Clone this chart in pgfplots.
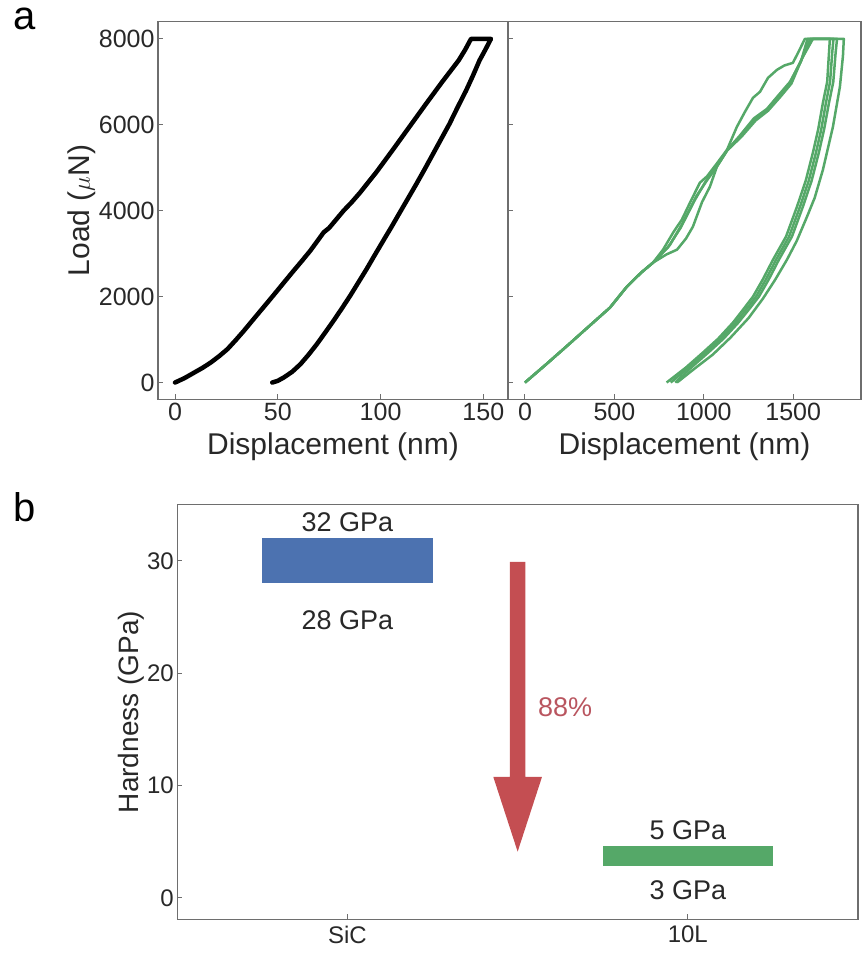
\documentclass[border=0pt]{standalone}
\usepackage{pgfplots}
\pgfplotsset{compat=1.18}
\usepackage{fontspec}
\setmainfont{Liberation Sans}
\definecolor{sblue}{HTML}{4C72B0}
\definecolor{sgreen}{HTML}{55A868}
\definecolor{sred}{HTML}{C44E52}
\definecolor{pct}{RGB}{185,85,95}
\definecolor{framec}{RGB}{110,110,110}
\definecolor{txt}{RGB}{40,40,40}
\pgfplotsset{
  base/.style={scale only axis, axis line style={draw=framec, line width=1.3pt},
    every tick/.style={draw=framec, line width=1pt}, major tick length=5pt,
    tick align=inside, tick pos=left, scaled ticks=false,
    /pgf/number format/1000 sep={}, /pgf/number format/assume math mode=true,
    clip=false},
}
\begin{document}
\begin{tikzpicture}
\useasboundingbox (0,0) rectangle (864pt,954pt);
\node[anchor=base west, font=\fontsize{40}{40}\selectfont, text=black] at (10pt,924pt) {a};
\node[anchor=base west, font=\fontsize{40}{40}\selectfont, text=black] at (10pt,432pt) {b};
% ---------- top left
\begin{axis}[base, at={(158pt,554.7pt)}, anchor=south west, width=350pt, height=377.6pt,
  xmin=-8.28, xmax=162, ymin=-390, ymax=8400,
  xtick={0,50,100,150}, ytick={0,2000,4000,6000,8000},
  ticklabel style={font=\fontsize{25}{25}\selectfont, text=txt},
  xlabel={Displacement (nm)}, ylabel={Load ($\mu$N)},
  label style={font=\fontsize{30}{30}\selectfont, text=txt},
  xlabel style={yshift=-5pt}, ylabel style={yshift=-4pt}]
\addplot[black, line width=4.5pt, line join=round, line cap=round] coordinates {
(0,0)(4.5,100)(9.4,233)(13.5,345)(17.4,466)(21.5,615)(25.5,777)(29.5,985)(33.5,1204)(37.5,1435)(41.6,1670)(45.7,1905)(49.7,2136)(53.7,2370)(57.7,2602)(61.8,2835)(65.8,3068)(69.2,3290)(72.3,3495)(75,3600)(78.5,3800)(82,4000)(86,4200)(90,4420)(94,4660)(98,4900)(102,5160)(106,5420)(110,5685)(114,5950)(118,6215)(122,6480)(126,6740)(130,7000)(134,7250)(138,7500)(141.2,7750)(144.0,8000)(153.7,8000)
(151,7750)(148.1,7495)(145,7150)(141.6,6796)(137.5,6410)(133.5,6019)(129.5,5670)(125.5,5320)(121.5,4970)(117.4,4621)(113.4,4290)(109.4,3961)(105.4,3630)(101.3,3301)(97.2,2970)(93.2,2641)(89.2,2330)(85.2,2019)(81.1,1720)(77.1,1437)(73,1160)(69.0,893)(65,650)(61.0,427)(57,250)(52.9,117)(50,40)(47.3,0)};
\end{axis}
% ---------- top right
\begin{axis}[base, at={(508pt,554.7pt)}, anchor=south west, width=353pt, height=377.6pt,
  xmin=-95, xmax=1879, ymin=-390, ymax=8400,
  xtick={0,500,1000,1500}, ytick={0,2000,4000,6000,8000}, yticklabels={},
  ticklabel style={font=\fontsize{25}{25}\selectfont, text=txt},
  xlabel={Displacement (nm)},
  label style={font=\fontsize{30}{30}\selectfont, text=txt},
  xlabel style={yshift=-5pt}]
\addplot[sgreen, line width=2.5pt, line join=round] coordinates {
(0,0)(120,430)(233,845)(350,1280)(475,1744)(570,2233)(650,2560)(716,2791)(772,3093)(830,3500)(877,3791)(930,4250)(978,4651)(1018,4800)(1073,5100)(1130,5420)(1185,5953)(1230,6302)(1275,6628)(1314,6767)(1359,7093)(1409,7279)(1450,7380)(1498,7442)(1530,7700)(1565,8000)
(1705,8000)(1700,7674)(1690,7000)(1666,6512)(1640,5900)(1610,5349)(1570,4700)(1521,4093)(1460,3400)(1387,2860)(1330,2400)(1275,2000)(1220,1700)(1163,1395)(1080,1020)(995,698)(900,350)(792,0)};
\addplot[sgreen, line width=2.5pt, line join=round] coordinates {
(0,0)(120,430)(233,845)(350,1280)(475,1744)(570,2233)(650,2560)(716,2791)(790,2980)(850,3093)(900,3350)(939,3628)(990,4200)(1034,4558)(1073,5023)(1130,5400)(1202,5721)(1280,6120)(1353,6349)(1420,6680)(1482,6977)(1550,7550)(1610,8000)
(1783,8000)(1778,7600)(1761,6884)(1722,5953)(1666,4953)(1620,4300)(1577,3860)(1520,3300)(1465,2860)(1400,2400)(1330,1950)(1250,1500)(1150,1050)(1050,650)(950,330)(850,0)};
\addplot[sgreen, line width=2.5pt, line join=round] coordinates {
(0,0)(120,430)(233,845)(350,1280)(475,1744)(570,2233)(650,2560)(716,2791)(800,3150)(870,3600)(950,4250)(1010,4680)(1073,5050)(1130,5410)(1202,5750)(1280,6150)(1353,6370)(1420,6700)(1482,7000)(1540,7450)(1595,8000)
(1725,8000)(1718,7674)(1706,7000)(1683,6512)(1657,5900)(1627,5349)(1587,4700)(1538,4093)(1477,3400)(1404,2860)(1347,2400)(1292,2000)(1236,1700)(1178,1395)(1095,1020)(1010,698)(915,350)(815,0)};
\addplot[sgreen, line width=2.5pt, line join=round] coordinates {
(0,0)(120,430)(233,845)(350,1280)(475,1744)(570,2233)(650,2560)(716,2791)(810,3200)(880,3700)(960,4350)(1020,4720)(1073,5030)(1130,5400)(1210,5720)(1290,6100)(1360,6330)(1430,6660)(1490,6960)(1545,7500)(1580,8000)
(1745,8000)(1737,7674)(1724,7000)(1700,6512)(1673,5900)(1643,5349)(1603,4700)(1554,4093)(1493,3400)(1420,2860)(1363,2400)(1308,2000)(1252,1700)(1193,1395)(1110,1020)(1025,698)(930,350)(840,0)};
\end{axis}
% ---------- bottom
\begin{axis}[base, at={(177.3pt,34.7pt)}, anchor=south west, width=680.7pt, height=414.6pt,
  xmin=-0.5, xmax=1.5, ymin=-1.9, ymax=35,
  xtick={0,1}, xticklabels={SiC,10L}, ytick={0,10,20,30},
  ticklabel style={font=\fontsize{24}{24}\selectfont, text=txt},
  xticklabel style={yshift=-3pt},
  ylabel={Hardness (GPa)},
  label style={font=\fontsize{28}{28}\selectfont, text=txt},
  ylabel style={yshift=-4pt}]
\addplot[fill=sblue, draw=none] coordinates {(-0.25,28)(0.25,28)(0.25,32)(-0.25,32)};
\addplot[fill=sgreen, draw=none] coordinates {(0.75,2.85)(1.25,2.85)(1.25,4.65)(0.75,4.65)};
\addplot[fill=sred, draw=none] coordinates {(0.477,29.9)(0.523,29.9)(0.523,10.77)(0.5715,10.77)(0.5,4.12)(0.4285,10.77)(0.477,10.77)};
\node[font=\fontsize{27}{27}\selectfont, text=txt] at (axis cs:0,33.4) {32 GPa};
\node[font=\fontsize{27}{27}\selectfont, text=txt] at (axis cs:0,24.75) {28 GPa};
\node[font=\fontsize{27}{27}\selectfont, text=txt] at (axis cs:1,6.05) {5 GPa};
\node[font=\fontsize{27}{27}\selectfont, text=txt] at (axis cs:1,0.7) {3 GPa};
\node[anchor=west, font=\fontsize{27}{27}\selectfont, text=pct] at (axis cs:0.55,17.0) {88\%};
\end{axis}
\end{tikzpicture}
\end{document}
